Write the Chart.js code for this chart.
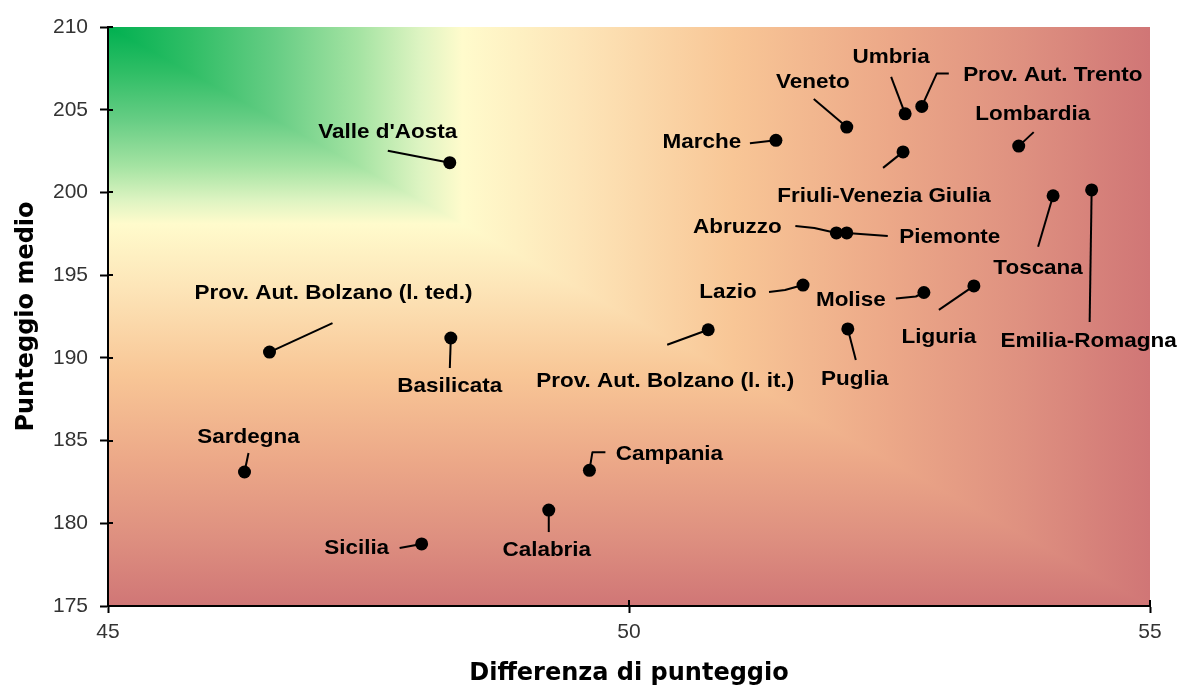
<!DOCTYPE html>
<html>
<head>
<meta charset="utf-8">
<script src="https://cdn.jsdelivr.net/npm/chart.js@4.4.1/dist/chart.umd.min.js"></script>
<style>
  html, body { margin: 0; padding: 0; background: #fff; }
  #wrap { width: 1178px; height: 688px; }
</style>
</head>
<body>
<div id="wrap"><canvas id="scatterChart"></canvas></div>
<script>
const regioni = [
  "Valle d'Aosta", 'Prov. Aut. Bolzano (l. ted.)', 'Basilicata', 'Sardegna', 'Sicilia',
  'Calabria', 'Campania', 'Prov. Aut. Bolzano (l. it.)', 'Lazio', 'Marche',
  'Veneto', 'Umbria', 'Prov. Aut. Trento', 'Lombardia', 'Friuli-Venezia Giulia',
  'Toscana', 'Emilia-Romagna', 'Abruzzo', 'Piemonte', 'Molise', 'Liguria', 'Puglia'
];
const differenza = [
  48.28, 46.55, 48.29, 46.31, 48.01,
  49.23, 49.62, 50.76, 51.67, 51.41,
  52.09, 52.65, 52.81, 53.74, 52.63,
  54.07, 54.44, 51.99, 52.09, 52.83, 53.31, 52.10
];
const punteggioMedio = [
  201.8, 190.35, 191.2, 183.1, 178.75,
  180.8, 183.2, 191.7, 194.4, 203.15,
  203.95, 204.75, 205.2, 202.8, 202.45,
  199.8, 200.15, 197.55, 197.55, 193.95, 194.35, 191.75
];
const xTicks = [45, 50, 55];
const yTicks = [175, 180, 185, 190, 195, 200, 205, 210];

// dove va l'etichetta (offset in px dal punto) e il percorso della linea guida
const labelLayout = [
  { text: [-62, -30], line: [[-62, -12]] },
  { text: [64, -59], line: [[63, -29]] },
  { text: [-1, 48], line: [[-1, 30]] },
  { text: [4, -35], line: [[4, -19]] },
  { text: [-65, 4], line: [[-22, 4]] },
  { text: [-2, 40], line: [[0, 22]] },
  { text: [80, -16], line: [[3, -18], [16, -18]] },
  { text: [-43, 51], line: [[-41, 15]] },
  { text: [-75, 7], line: [[-18, 5], [-34, 7]] },
  { text: [-74, 2], line: [[-26, 3]] },
  { text: [-34, -45], line: [[-33, -28]] },
  { text: [-14, -57], line: [[-14, -37]] },
  { text: [131, -31], line: [[15, -33], [27, -33]] },
  { text: [14, -32], line: [[15, -14]] },
  { text: [-19, 44], line: [[-20, 16]] },
  { text: [-15, 72], line: [[-15, 51]] },
  { text: [-3, 151], line: [[-2, 132]] },
  { text: [-99, -6], line: [[-22, -5], [-41, -7]] },
  { text: [103, 4], line: [[41, 3]] },
  { text: [-73, 8], line: [[-8, 4], [-28, 6]] },
  { text: [-35, 51], line: [[-35, 24]] },
  { text: [7, 50], line: [[8, 31]] }
];

// sfondo: sfumatura dall'angolo in alto a sinistra (verde -> giallo -> arancio -> rosso)
const sfondoStops = [
  [0, '#00b050'], [0.08, '#30be66'], [0.16, '#66cd84'], [0.24, '#a4e3a2'],
  [0.30, '#def4c2'], [0.34, '#fffbcc'], [0.45, '#fde5b8'], [0.60, '#f8c696'],
  [0.75, '#eca888'], [0.88, '#de9080'], [1, '#d07676']
];

const sfondoPlugin = {
  id: 'sfondo',
  beforeDraw(chart) {
    const { ctx, chartArea: a } = chart;
    const gv = ctx.createLinearGradient(0, a.top, 0, a.bottom);
    const gh = ctx.createLinearGradient(a.left, 0, a.right, 0);
    sfondoStops.forEach(([t, c]) => { gv.addColorStop(t, c); gh.addColorStop(t, c); });
    ctx.save();
    ctx.fillStyle = gv;
    ctx.fillRect(a.left, a.top, a.right - a.left, a.bottom - a.top);
    ctx.beginPath();
    ctx.moveTo(a.left, a.top);
    ctx.lineTo(a.right, a.top);
    ctx.lineTo(a.right, a.bottom);
    ctx.closePath();
    ctx.fillStyle = gh;
    ctx.fill();
    ctx.restore();
  }
};

const etichettePlugin = {
  id: 'etichette',
  beforeDatasetsDraw(chart) {
    const { ctx } = chart;
    const meta = chart.getDatasetMeta(0);
    ctx.save();
    ctx.strokeStyle = '#000';
    ctx.lineWidth = 2;
    ctx.lineJoin = 'round';
    meta.data.forEach((pt, i) => {
      ctx.beginPath();
      ctx.moveTo(pt.x, pt.y);
      labelLayout[i].line.forEach(([dx, dy]) => ctx.lineTo(pt.x + dx, pt.y + dy));
      ctx.stroke();
    });
    ctx.restore();
  },
  afterDatasetsDraw(chart) {
    const { ctx } = chart;
    const meta = chart.getDatasetMeta(0);
    ctx.save();
    ctx.fillStyle = '#000';
    ctx.font = 'bold 21px "Liberation Sans", Arial, sans-serif';
    ctx.textAlign = 'center';
    ctx.textBaseline = 'middle';
    meta.data.forEach((pt, i) => {
      const [dx, dy] = labelLayout[i].text;
      ctx.save();
      ctx.translate(pt.x + dx, pt.y + dy);
      ctx.scale(1.07, 1);
      ctx.fillText(regioni[i], 0, 0);
      ctx.restore();
    });
    ctx.restore();
  },
  afterDraw(chart) {
    // parte interna delle tacche (le tacche attraversano l'asse)
    const { ctx, chartArea: a, scales } = chart;
    ctx.save();
    ctx.strokeStyle = '#000';
    ctx.lineWidth = 2;
    ctx.beginPath();
    xTicks.forEach(v => {
      const px = Math.round(scales.x.getPixelForValue(v));
      ctx.moveTo(px, a.bottom);
      ctx.lineTo(px, a.bottom - 6);
    });
    yTicks.forEach(v => {
      const py = Math.round(scales.y.getPixelForValue(v));
      ctx.moveTo(a.left, py);
      ctx.lineTo(a.left + 5, py);
    });
    ctx.stroke();
    ctx.restore();
  }
};

const tickFont = { family: '"Liberation Sans", Arial, sans-serif', size: 21 };
const titleFont = { family: '"DejaVu Sans", sans-serif', size: 24, weight: 'bold' };

new Chart(document.getElementById('scatterChart').getContext('2d'), {
  type: 'scatter',
  data: {
    datasets: [{
      label: 'Regioni',
      data: regioni.map((r, i) => ({ x: differenza[i], y: punteggioMedio[i] })),
      backgroundColor: '#000',
      borderColor: '#000',
      borderWidth: 0,
      pointRadius: 6.5,
      pointHoverRadius: 6.5
    }]
  },
  options: {
    responsive: true,
    maintainAspectRatio: false,
    animation: false,
    layout: { padding: { top: 27, right: 28, left: 0, bottom: 0 } },
    plugins: {
      legend: { display: false },
      tooltip: { enabled: false }
    },
    scales: {
      x: {
        type: 'linear',
        min: 45,
        max: 55,
        afterBuildTicks(s) { s.ticks = xTicks.map(v => ({ value: v })); },
        ticks: { color: '#333', font: tickFont, padding: 7 },
        grid: { drawOnChartArea: false, tickLength: 7, tickColor: '#000', tickWidth: 2 },
        border: { color: '#000', width: 2 },
        title: { display: true, text: 'Differenza di punteggio', color: '#000', font: titleFont, padding: 0 },
        afterFit(s) { s.height = 82; }
      },
      y: {
        type: 'linear',
        min: 175,
        max: 210,
        afterBuildTicks(s) { s.ticks = yTicks.map(v => ({ value: v })); },
        ticks: { color: '#333', font: tickFont, padding: 12 },
        grid: { drawOnChartArea: false, tickLength: 8, tickColor: '#000', tickWidth: 2 },
        border: { color: '#000', width: 2 },
        title: { display: true, text: 'Punteggio medio', color: '#000', font: titleFont, padding: { top: 12, bottom: 0 } },
        afterFit(s) { s.width = 108; }
      }
    }
  },
  plugins: [sfondoPlugin, etichettePlugin]
});
</script>
</body>
</html>
